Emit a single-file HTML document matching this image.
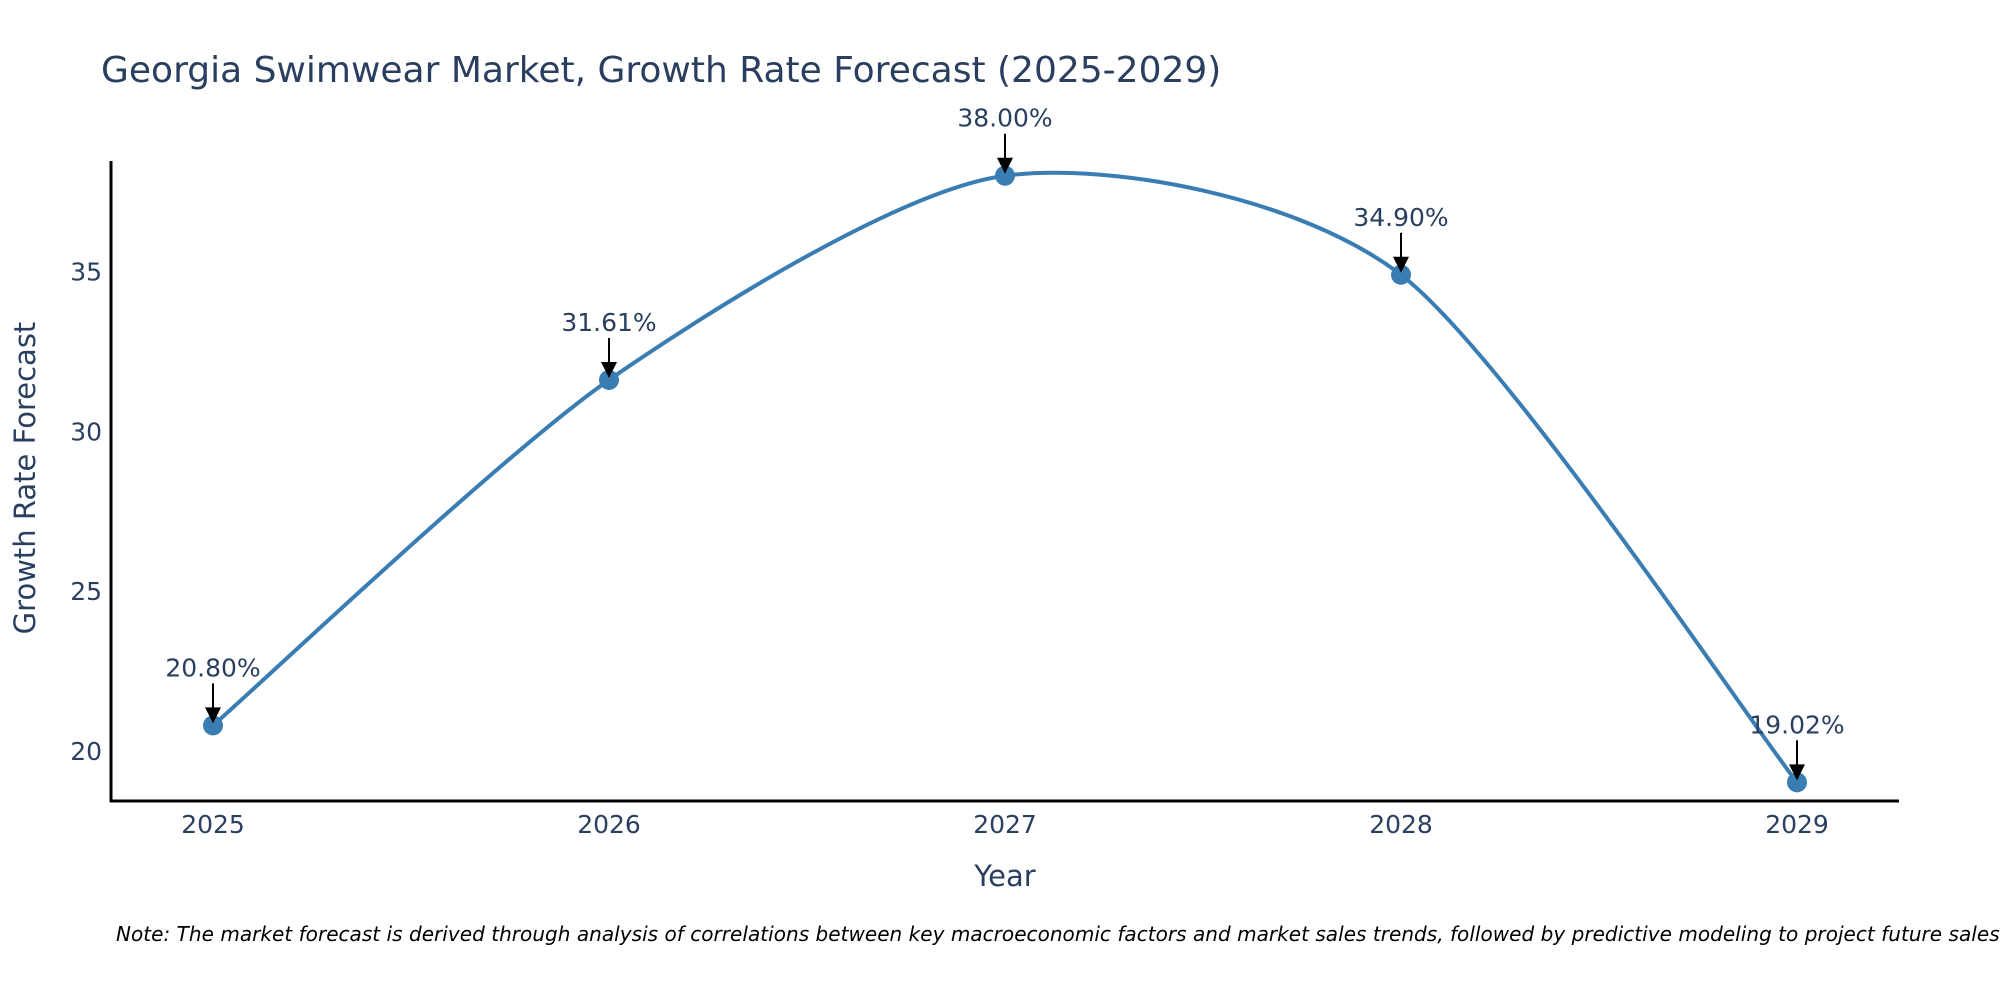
<!DOCTYPE html>
<html><head><meta charset="utf-8"><style>
html,body{margin:0;padding:0;background:#fff;}
svg{display:block;font-family:"DejaVu Sans","Liberation Sans",sans-serif;}
</style></head><body>
<svg id="chart" width="2000" height="1000" viewBox="0 0 2000 1000">
<text x="101" y="82" font-size="36" fill="#2a3f5f">Georgia Swimwear Market, Growth Rate Forecast (2025-2029)</text>
<g id="axes"></g>
<g id="series"></g>
<g id="annotations"></g>
<text x="1005" y="886" font-size="29" fill="#2a3f5f" text-anchor="middle">Year</text>
<text transform="translate(35,478) rotate(-90)" font-size="29" fill="#2a3f5f" text-anchor="middle">Growth Rate Forecast</text>
<text x="116" y="941" font-size="20" font-style="italic" fill="#000" textLength="1890">Note: The market forecast is derived through analysis of correlations between key macroeconomic factors and market sales trends, followed by predictive modeling to project future sales.</text>
</svg>
<script>
const years = [2025, 2026, 2027, 2028, 2029];
const values = [20.80, 31.61, 38.00, 34.90, 19.02];
const labels = ["20.80%", "31.61%", "38.00%", "34.90%", "19.02%"];
const yTicks = [20, 25, 30, 35];

const NS = "http://www.w3.org/2000/svg";
function x(v){ return 213 + (v - 2025) * 396; }
function y(v){ return 751 - (v - 20) * 31.96; }
function mk(tag, attrs, parent){ const e=document.createElementNS(NS,tag); for(const k in attrs) e.setAttribute(k,attrs[k]); parent.appendChild(e); return e; }

const axes = document.getElementById('axes');
let yl = mk('line',{x1:111,y1:161,x2:111,y2:802,stroke:'#000','stroke-width':3},axes);


let xl = mk('line',{x1:110,y1:801,x2:1899,y2:801,stroke:'#000','stroke-width':3},axes);


yTicks.forEach(t=>{
  const e = mk('text',{x:102,y:y(t)+9,'font-size':25,fill:'#2a3f5f','text-anchor':'end'},axes);
  e.textContent = t;
  
  
});
years.forEach(t=>{
  const e = mk('text',{x:x(t),y:833,'font-size':25,fill:'#2a3f5f','text-anchor':'middle'},axes);
  e.textContent = t;
  
  
});

const series = document.getElementById('series');
const pts = years.map((yr,i)=>[x(yr), y(values[i])]);
let d = 'M'+pts[0][0]+','+pts[0][1];
const k = 0.13;
for(let i=0;i<pts.length-1;i++){
  const p0 = pts[i-1]||pts[i], p1=pts[i], p2=pts[i+1], p3=pts[i+2]||pts[i+1];
  const c1=[p1[0]+(p2[0]-p0[0])*k, p1[1]+(p2[1]-p0[1])*k];
  const c2=[p2[0]-(p3[0]-p1[0])*k, p2[1]-(p3[1]-p1[1])*k];
  d += ' C'+c1+' '+c2+' '+p2;
}
const path = mk('path',{d:d,fill:'none',stroke:'#3a7db2','stroke-width':4},series);


pts.forEach((p,i)=>{
  const c = mk('circle',{cx:p[0],cy:p[1],r:10,fill:'#3a7db2'},series);
  
  
});

const ann = document.getElementById('annotations');
pts.forEach((p,i)=>{
  const l = mk('line',{x1:p[0],y1:p[1]-42,x2:p[0],y2:p[1]-14,stroke:'#000','stroke-width':2},ann);
  
  
  const h = mk('polygon',{points:(p[0]-8)+','+(p[1]-18)+' '+(p[0]+8)+','+(p[1]-18)+' '+p[0]+','+(p[1]-2),fill:'#000'},ann);
  
  
  const t = mk('text',{x:p[0],y:p[1]-49,'font-size':25,fill:'#2a3f5f','text-anchor':'middle'},ann);
  t.textContent = labels[i];
  
  
});
</script>
</body></html>
